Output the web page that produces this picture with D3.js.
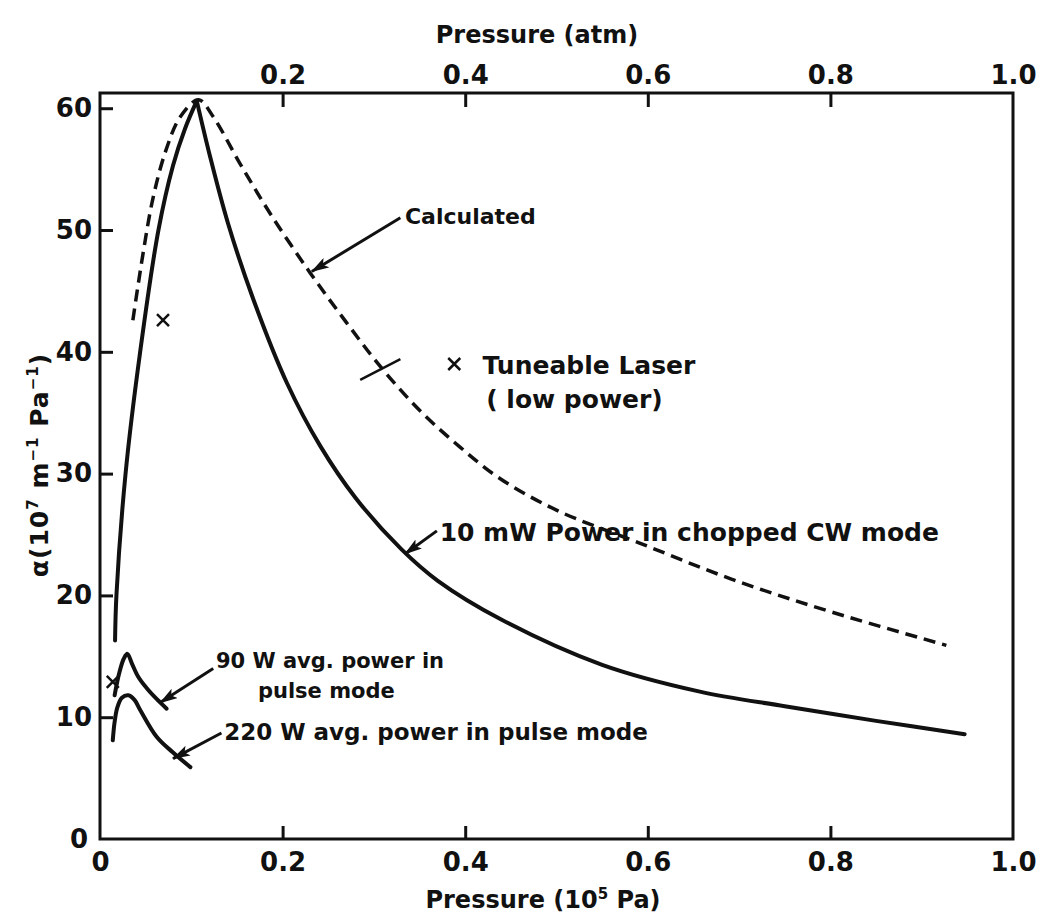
<!DOCTYPE html>
<html>
<head>
<meta charset="utf-8">
<script src="https://cdn.jsdelivr.net/npm/d3@7"></script>
<style>
  body { margin: 0; background: #fff; }
  svg text { font-family: "DejaVu Sans", Lato, sans-serif; font-weight: 700; fill: #111; }
</style>
</head>
<body>
<div id="chart"></div>
<script>
// Calculated curve (dashed)
const calcP     = [0.036, 0.047, 0.058, 0.072, 0.088, 0.108, 0.124, 0.153, 0.186, 0.230, 0.270, 0.307, 0.350, 0.394, 0.438, 0.500, 0.591, 0.693, 0.803, 0.927];
const calcAlpha = [42.6, 48.0, 52.6, 56.5, 59.3, 60.7, 59.3, 55.5, 51.4, 46.5, 42.4, 38.8, 35.2, 32.2, 29.6, 27.0, 24.3, 21.3, 18.6, 15.9];

// 10 mW chopped CW mode (solid)
const cwP     = [0.0165, 0.018, 0.028, 0.044, 0.064, 0.080, 0.093, 0.106, 0.120, 0.140, 0.168, 0.205, 0.241, 0.280, 0.330, 0.370, 0.440, 0.550, 0.657, 0.750, 0.850, 0.947];
const cwAlpha = [16.3, 20.0, 30.0, 40.0, 50.0, 55.3, 58.3, 60.6, 56.2, 50.6, 44.3, 37.4, 32.3, 28.0, 23.8, 21.2, 18.0, 14.3, 12.1, 10.9, 9.7, 8.6];

// 90 W avg. power, pulse mode
const pulse90P     = [0.016, 0.021, 0.026, 0.030, 0.035, 0.042, 0.051, 0.062, 0.073];
const pulse90Alpha = [11.8, 13.6, 14.8, 15.2, 14.4, 13.3, 12.4, 11.5, 10.7];

// 220 W avg. power, pulse mode
const pulse220P     = [0.014, 0.016, 0.019, 0.024, 0.031, 0.038, 0.044, 0.062, 0.080, 0.099];
const pulse220Alpha = [8.1, 9.6, 10.8, 11.6, 11.8, 11.4, 10.6, 8.4, 7.1, 5.9];

// Tuneable laser points (x marks)
const laserP     = [0.069, 0.014];
const laserAlpha = [42.6, 12.9];

// Tick values
const xTicks   = [0, 0.2, 0.4, 0.6, 0.8, 1.0];
const atmTicks = [0.2, 0.4, 0.6, 0.8, 1.0];
const yTicks   = [0, 10, 20, 30, 40, 50, 60];

const W = 1044, H = 916;
const svg = d3.select("#chart").append("svg")
    .attr("width", W)
    .attr("height", H);

const xScale = d3.scaleLinear().domain([0, 1]).range([100, 1013]);
const atmScale = d3.scaleLinear().domain([0, 1]).range([100, 1013]);
const yScale = d3.scaleLinear().domain([0, 61.25]).range([839, 93]);

// arrow head
svg.append("defs").append("marker")
    .attr("id", "arrow")
    .attr("viewBox", "0 0 18 11")
    .attr("refX", 17)
    .attr("refY", 5.5)
    .attr("markerWidth", 18)
    .attr("markerHeight", 11)
    .attr("markerUnits", "userSpaceOnUse")
    .attr("orient", "auto")
  .append("path")
    .attr("d", "M0,0 L18,5.5 L0,11 L4,5.5 Z")
    .attr("fill", "#111");

// Axes
const fmt = d => d === 0 ? "0" : d.toFixed(1);

const bottomAxis = svg.append("g")
    .attr("transform", `translate(0,${yScale(0)})`)
    .call(d3.axisBottom(xScale).tickValues(xTicks).tickSize(-13).tickPadding(14).tickFormat(fmt));

const topAxis = svg.append("g")
    .attr("transform", `translate(0,${yScale.range()[1]})`)
    .call(d3.axisTop(atmScale).tickValues(atmTicks).tickSize(-14).tickPadding(9).tickFormat(fmt));

const leftAxis = svg.append("g")
    .attr("transform", `translate(${xScale(0)},0)`)
    .call(d3.axisLeft(yScale).tickValues(yTicks).tickSize(-13).tickPadding(8).tickFormat(d3.format("d")));

[bottomAxis, topAxis, leftAxis].forEach(g => {
    g.select(".domain").remove();
    g.selectAll(".tick line").attr("stroke", "#111").attr("stroke-width", 3);
    g.selectAll(".tick text").style("font-size", "26px").style("font-weight", 700).attr("fill", "#111");
});
leftAxis.selectAll(".tick").filter(d => d === 0).select("line").remove();
leftAxis.selectAll(".tick").filter(d => d === 0).select("text").attr("dx", -4);
bottomAxis.selectAll(".tick").filter(d => d === 0 || d === 1).select("line").remove();
topAxis.selectAll(".tick").filter(d => d === 1).select("line").remove();

// Frame
svg.append("rect")
    .attr("x", xScale(0))
    .attr("y", yScale.range()[1])
    .attr("width", xScale(1) - xScale(0))
    .attr("height", yScale(0) - yScale.range()[1])
    .attr("fill", "none")
    .attr("stroke", "#111")
    .attr("stroke-width", 3);

// Axis titles
svg.append("text")
    .attr("x", 537).attr("y", 43)
    .attr("text-anchor", "middle")
    .style("font-size", "24px")
    .text("Pressure (atm)");

const xTitle = svg.append("text")
    .attr("x", 543).attr("y", 908)
    .attr("text-anchor", "middle")
    .style("font-size", "24px");
xTitle.append("tspan").text("Pressure  (10");
xTitle.append("tspan").attr("dy", -9).style("font-size", "15px").text("5");
xTitle.append("tspan").attr("dy", 9).text(" Pa)");

const yTitle = svg.append("text")
    .attr("transform", "translate(48,465) rotate(-90)")
    .attr("text-anchor", "middle")
    .style("font-size", "25px")
    .style("letter-spacing", "1px");
yTitle.append("tspan").text("α(10");
yTitle.append("tspan").attr("dy", -10).style("font-size", "15px").text("7");
yTitle.append("tspan").attr("dy", 10).text("  m");
yTitle.append("tspan").attr("dy", -10).style("font-size", "15px").text("−1");
yTitle.append("tspan").attr("dy", 10).text(" Pa");
yTitle.append("tspan").attr("dy", -10).style("font-size", "15px").text("−1");
yTitle.append("tspan").attr("dy", 10).text(")");

// Curves
const line = d3.line()
    .x(d => xScale(d[0]))
    .y(d => yScale(d[1]))
    .curve(d3.curveCatmullRom.alpha(0.5));

const zip = (a, b) => a.map((v, i) => [v, b[i]]);

svg.append("path")
    .datum(zip(calcP, calcAlpha))
    .attr("d", line)
    .attr("fill", "none")
    .attr("stroke", "#111")
    .attr("stroke-width", 3.5)
    .attr("stroke-dasharray", "12,7");

// the measured CW curve has a sharp peak, so draw it as two branches meeting there
const cwData = zip(cwP, cwAlpha);
const cwPeak = d3.maxIndex(cwAlpha);
const solidCurves = [
    cwData.slice(0, cwPeak + 1),
    cwData.slice(cwPeak),
    zip(pulse90P, pulse90Alpha),
    zip(pulse220P, pulse220Alpha)
];
solidCurves.forEach(pts => {
    svg.append("path")
        .datum(pts)
        .attr("d", line)
        .attr("fill", "none")
        .attr("stroke", "#111")
        .attr("stroke-width", 4)
        .attr("stroke-linecap", "round")
        .attr("stroke-linejoin", "round");
});

// Tuneable laser points
const xMark = "M-6,-6 L6,6 M-6,6 L6,-6";
svg.selectAll(".laser")
    .data(zip(laserP, laserAlpha))
  .enter().append("path")
    .attr("class", "laser")
    .attr("d", xMark)
    .attr("transform", d => `translate(${xScale(d[0])},${yScale(d[1])})`)
    .attr("stroke", "#111")
    .attr("stroke-width", 2.5);

// short marker across the calculated curve
svg.append("line")
    .attr("x1", xScale(0.285)).attr("y1", yScale(37.7))
    .attr("x2", xScale(0.329)).attr("y2", yScale(39.4))
    .attr("stroke", "#111").attr("stroke-width", 2.5);

// Annotations
function arrow(p1, a1, p2, a2) {
    svg.append("line")
        .attr("x1", xScale(p1)).attr("y1", yScale(a1))
        .attr("x2", xScale(p2)).attr("y2", yScale(a2))
        .attr("stroke", "#111")
        .attr("stroke-width", 3)
        .attr("marker-end", "url(#arrow)");
}
function label(p, a, txt, size) {
    svg.append("text")
        .attr("x", xScale(p)).attr("y", yScale(a))
        .style("font-size", size + "px")
        .text(txt);
}

arrow(0.329, 51.0, 0.232, 46.6);
label(0.334, 50.5, "Calculated", 22);

arrow(0.369, 25.3, 0.334, 23.4);
label(0.372, 24.5, "10 mW  Power in chopped CW mode", 25);

arrow(0.124, 14.0, 0.066, 11.2);
label(0.127, 14.0, "90 W avg. power in", 21);
label(0.173, 11.6, "pulse mode", 21);

arrow(0.133, 8.7, 0.080, 6.6);
label(0.136, 8.1, "220 W avg. power in pulse mode", 23);

svg.append("path")
    .attr("d", xMark)
    .attr("transform", `translate(${xScale(0.388)},${yScale(39.0)})`)
    .attr("stroke", "#111")
    .attr("stroke-width", 2.5);
label(0.419, 38.2, "Tuneable Laser", 25);
label(0.423, 35.4, "( low  power)", 25);
</script>
</body>
</html>
